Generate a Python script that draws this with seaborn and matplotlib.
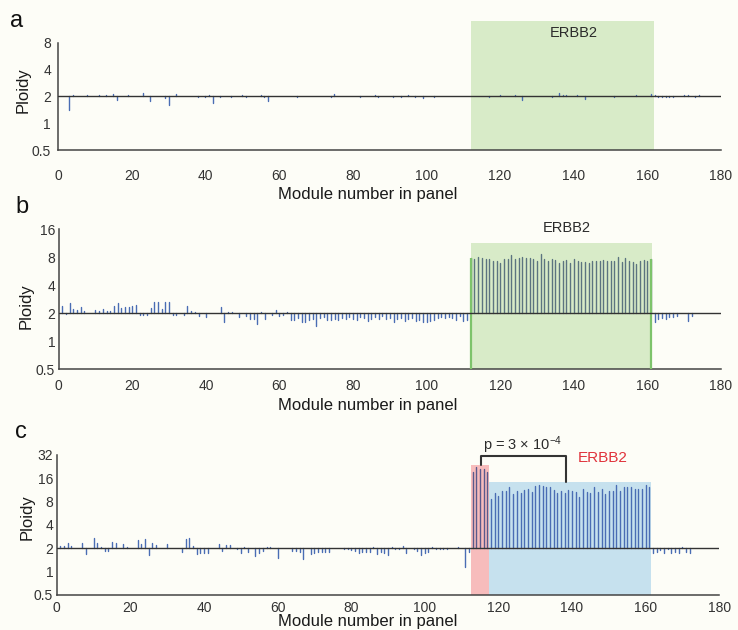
import numpy as np
import pandas as pd
import matplotlib
matplotlib.use("Agg")
import matplotlib.pyplot as plt
import seaborn as sns
from matplotlib.patches import Rectangle
from matplotlib.ticker import FixedLocator, NullLocator

sns.set_theme(style="white")
plt.rcParams["font.family"] = ["Liberation Sans", "DejaVu Sans"]
plt.rcParams["mathtext.fontset"] = "custom"
plt.rcParams["mathtext.rm"] = "Liberation Sans"
plt.rcParams["mathtext.it"] = "Liberation Sans:italic"
plt.rcParams["mathtext.bf"] = "Liberation Sans:bold"

# ---------------- data ----------------
ploidy_a = [
    2.02, 2.00, 1.42, 2.06, 2.01, 2.00, 2.04, 2.05, 2.03, 2.04,
    2.05, 2.04, 2.05, 2.03, 2.15, 1.84, 2.01, 2.02, 2.07, 2.02,
    2.03, 2.01, 2.20, 2.02, 1.80, 2.00, 2.01, 2.02, 1.92, 1.60,
    2.02, 2.12, 2.01, 2.00, 2.01, 2.00, 2.01, 1.96, 2.00, 1.95,
    2.06, 1.70, 2.02, 1.96, 2.02, 2.03, 1.97, 2.02, 2.04, 2.07,
    1.96, 2.04, 2.02, 2.01, 2.07, 1.96, 1.78, 2.03, 2.00, 2.00,
    2.00, 2.00, 2.00, 2.00, 1.97, 2.00, 2.00, 2.01, 2.00, 2.00,
    2.00, 2.02, 2.01, 1.96, 2.12, 2.03, 2.00, 2.00, 2.04, 2.01,
    2.00, 1.95, 2.01, 2.00, 2.00, 2.05, 1.96, 2.01, 2.00, 2.03,
    1.95, 2.04, 1.96, 2.02, 2.05, 2.02, 1.95, 2.02, 1.94, 2.02,
    2.00, 1.95, 2.01, 2.04, 2.00, 2.04, 2.00, 2.00, 2.03, 2.00,
    2.00, 2.00, 2.00, 2.00, 2.00, 2.00, 1.96, 2.00, 2.00, 2.06,
    2.01, 2.00, 2.00, 2.09, 2.04, 1.82, 2.00, 2.03, 2.00, 2.02,
    2.00, 2.03, 2.00, 1.98, 2.00, 2.18, 2.10, 2.08, 2.00, 2.00,
    2.10, 2.00, 1.85, 2.00, 2.02, 2.00, 2.00, 2.02, 2.00, 2.00,
    1.96, 2.00, 2.00, 2.00, 2.00, 2.02, 2.06, 2.02, 2.03, 2.00,
    2.12, 2.05, 1.97, 1.96, 1.95, 1.97, 1.96, 2.00, 2.00, 2.07,
    2.10, 2.00, 1.97, 2.06, 2.03, 2.00, 2.02,
]

ploidy_b = [
    2.40, 1.96, 2.60, 2.22, 2.17, 2.32, 2.12, 2.00, 2.00, 2.17,
    2.14, 2.24, 2.10, 2.14, 2.42, 2.60, 2.26, 2.36, 2.32, 2.40,
    2.44, 1.93, 1.93, 1.93, 2.26, 2.63, 2.63, 2.20, 2.65, 2.63,
    1.93, 1.93, 2.00, 1.93, 2.40, 2.12, 2.07, 1.87, 2.00, 1.84,
    2.00, 2.00, 2.00, 2.32, 1.63, 2.07, 2.05, 2.03, 1.81, 2.00,
    1.87, 1.72, 1.72, 1.54, 2.07, 1.72, 2.00, 1.92, 2.17, 1.87,
    1.92, 2.07, 1.69, 1.69, 1.77, 1.63, 1.60, 1.69, 1.72, 1.47,
    1.77, 1.84, 1.69, 1.69, 1.72, 1.69, 1.77, 1.72, 1.81, 1.72,
    1.69, 1.84, 1.77, 1.66, 1.72, 1.81, 1.72, 1.87, 1.72, 1.77,
    1.63, 1.72, 1.77, 1.67, 1.72, 1.77, 1.67, 1.69, 1.63, 1.63,
    1.67, 1.69, 1.77, 1.81, 1.77, 1.81, 1.77, 1.69, 1.87, 1.67,
    1.69,
    # ERBB2 block (modules 112-161)
    7.80, 7.67, 8.13, 7.80, 7.61, 7.61, 7.35, 7.35, 7.03, 7.61,
    7.61, 8.48, 7.61, 7.80, 8.00, 7.93, 7.80, 7.61, 7.35, 8.61,
    7.61, 7.35, 7.67, 7.48, 6.97, 7.35, 7.48, 6.97, 7.61, 7.35,
    7.20, 7.14, 7.03, 7.35, 7.35, 7.35, 7.55, 7.35, 7.35, 7.35,
    8.00, 7.20, 7.80, 7.35, 7.14, 6.76, 7.35, 7.48, 7.35, 7.61,
    # after block
    1.63, 1.72, 1.77, 1.72, 1.81, 1.81, 1.87, 2.00, 2.00, 1.67, 1.87,
]

ploidy_c = [
    2.16, 2.16, 2.32, 2.14, 2.00, 2.00, 2.32, 1.67, 2.00, 2.69,
    2.32, 2.06, 1.87, 1.87, 2.39, 2.37, 2.02, 2.25, 2.10, 2.02,
    2.00, 2.56, 2.27, 2.61, 1.64, 2.32, 2.19, 2.02, 2.00, 2.30,
    2.00, 2.00, 2.00, 1.78, 2.61, 2.69, 2.14, 1.67, 1.72, 1.72,
    1.72, 2.00, 2.00, 2.25, 1.87, 2.21, 2.21, 2.00, 1.94, 1.72,
    2.06, 1.78, 2.00, 1.61, 1.76, 1.87, 2.10, 2.10, 2.00, 1.49,
    2.00, 2.03, 2.00, 1.87, 1.87, 1.81, 1.44, 2.00, 1.69, 1.72,
    1.81, 1.81, 1.81, 1.81, 2.00, 2.00, 2.00, 1.97, 1.97, 1.91,
    1.87, 1.72, 1.78, 1.81, 1.81, 2.06, 1.69, 1.81, 1.72, 1.64,
    2.10, 1.94, 1.97, 2.14, 1.72, 2.00, 1.94, 1.87, 1.64, 1.72,
    1.81, 2.10, 1.97, 1.97, 1.97, 1.97, 2.00, 2.00, 2.10, 2.00,
    1.16, 1.81,
    # high-amplitude block (modules 113-117)
    19.5, 22.3, 21.3, 20.9, 19.3,
    # ERBB2 block (modules 118-161)
    8.57, 10.42, 9.38, 11.03, 11.03, 12.5, 10.0, 11.03, 10.25, 11.31,
    11.54, 10.74, 12.75, 13.0, 12.9, 12.27, 12.5, 11.31, 10.42, 11.03,
    10.42, 11.31, 11.03, 10.74, 9.06, 11.7, 10.74, 10.25, 12.5, 10.74,
    11.7, 9.9, 11.03, 11.03, 13.0, 11.03, 12.5, 12.5, 12.27, 11.54,
    11.7, 11.7, 13.2, 12.5,
    # after block
    1.72, 1.81, 1.91, 1.72, 1.97, 1.72, 1.81, 1.72, 2.10, 1.81, 1.72,
]

baseline_ploidy = 2.0
x_ticks = [0, 20, 40, 60, 80, 100, 120, 140, 160, 180]
y_ticks_a = [0.5, 1, 2, 4, 8]
y_ticks_b = [0.5, 1, 2, 4, 8, 16]
y_ticks_c = [0.5, 1, 2, 4, 8, 16, 32]
y_ticklabels_a = ["0.5", "1", "2", "4", "8"]
y_ticklabels_b = ["0.5", "1", "2", "4", "8", "16"]
y_ticklabels_c = ["0.5", "1", "2", "4", "8", "16", "32"]
erbb2_modules_b = (112, 161)
high_modules_c = (113, 117)
erbb2_modules_c = (118, 161)
p_text = r"p = 3 × 10$^{-4}$"

# ---------------- style ----------------
BG = "#fdfdf7"
BLUE = "#4a6db4"
BOX_BAR = "#5c7480"
RED_BAR = "#5a5a8c"
GREEN_BOX = "#d8ebc8"
GREEN_EDGE = "#7dc36b"
RED_BOX = "#f7bcbc"
BLUE_BOX = "#c6e1ee"
AXC = "#444444"
TXT = "#2b2b2b"

W, H = 738, 630
fig = plt.figure(figsize=(W / 100, H / 100), dpi=100, facecolor=BG)


def px_rect(left, bottom_from_top, width, height):
    return [left / W, 1 - bottom_from_top / H, width / W, height / H]


def stem_frame(values, regions):
    m = np.arange(1, len(values) + 1)
    base = np.full(len(values), baseline_ploidy)
    return pd.DataFrame({
        "module": np.repeat(m, 2),
        "ploidy": np.column_stack([base, np.asarray(values, float)]).ravel(),
        "region": np.repeat(regions, 2),
    })


def region_labels(n, spans):
    labs = []
    for m in range(1, n + 1):
        lab = "other"
        for name, (lo, hi) in spans.items():
            if lo <= m <= hi:
                lab = name
        labs.append(lab)
    return labs


def style_axes(ax, ylim, spine_top, yticks, ylabels, xpad, ypad):
    ax.set_facecolor(BG)
    ax.set_yscale("log", base=2)
    ax.set_ylim(*ylim)
    ax.set_xlim(0, 180)
    ax.yaxis.set_major_locator(FixedLocator(yticks))
    ax.set_yticklabels(ylabels)
    ax.yaxis.set_minor_locator(NullLocator())
    ax.set_xticks(x_ticks)
    ax.set_xticklabels([str(t) for t in x_ticks])
    for s in ["top", "right"]:
        ax.spines[s].set_visible(False)
    for s in ["left", "bottom"]:
        ax.spines[s].set_color(AXC)
        ax.spines[s].set_linewidth(1.1)
    ax.spines["left"].set_bounds(0.5, spine_top)
    ax.tick_params(direction="in", length=4.5, width=1.1, color=AXC,
                   labelsize=10, labelcolor="#333333")
    ax.tick_params(axis="x", pad=xpad)
    ax.tick_params(axis="y", pad=ypad)
    ax.set_xlabel("")
    ax.set_ylabel("")
    ax.axhline(baseline_ploidy, color="#333333", lw=1.0, zorder=4)


def draw_stems(ax, values, regions, palette):
    df = stem_frame(values, regions)
    sns.lineplot(data=df, x="module", y="ploidy", units="module", estimator=None,
                 hue="region", palette=palette, lw=1.0, legend=False, sort=False,
                 ax=ax, zorder=3)


# ---------------- panel a ----------------
ax_a = fig.add_axes(px_rect(58, 150, 663, 129))
ax_a.add_patch(Rectangle((112.2, 0.5), 161.8 - 112.2, 14.1 - 0.5,
                         facecolor=GREEN_BOX, edgecolor="none", zorder=1))
draw_stems(ax_a, ploidy_a, ["other"] * len(ploidy_a), {"other": BLUE})
style_axes(ax_a, (0.5, 14.1), 8, y_ticks_a, y_ticklabels_a, 14, 5)
ax_a.text(140, 10.4, "ERBB2", ha="center", va="center", fontsize=10.5, color=TXT)

# ---------------- panel b ----------------
ax_b = fig.add_axes(px_rect(58.7, 369.3, 662.3, 140))
lo_b, hi_b = erbb2_modules_b
ax_b.add_patch(Rectangle((lo_b, 0.5), hi_b + 0.3 - lo_b, 11.3 - 0.5,
                         facecolor=GREEN_BOX, edgecolor="none", zorder=1))
reg_b = region_labels(len(ploidy_b), {"erbb2": erbb2_modules_b})
draw_stems(ax_b, ploidy_b, reg_b, {"other": BLUE, "erbb2": BOX_BAR})
ax_b.vlines([lo_b, hi_b], 0.5, [ploidy_b[lo_b - 1], ploidy_b[hi_b - 1]],
            color=GREEN_EDGE, lw=1.6, zorder=3.5)
style_axes(ax_b, (0.5, 16), 16, y_ticks_b, y_ticklabels_b, 7, 2.5)
ax_b.text(138, 16.6, "ERBB2", ha="center", va="center", fontsize=10.5,
          color=TXT, clip_on=False)

# ---------------- panel c ----------------
ax_c = fig.add_axes(px_rect(56.7, 595, 662.6, 140))
lo_h, hi_h = high_modules_c
lo_e, hi_e = erbb2_modules_c
ax_c.add_patch(Rectangle((lo_h - 0.5, 0.5), hi_h - lo_h + 0.9, 23.8 - 0.5,
                         facecolor=RED_BOX, edgecolor="none", zorder=1))
ax_c.add_patch(Rectangle((lo_e - 0.6, 0.5), hi_e - lo_e + 1.0, 14.5 - 0.5,
                         facecolor=BLUE_BOX, edgecolor="none", zorder=1))
reg_c = region_labels(len(ploidy_c), {"high": high_modules_c, "erbb2": erbb2_modules_c})
draw_stems(ax_c, ploidy_c, reg_c, {"other": BLUE, "high": RED_BAR, "erbb2": BLUE})
style_axes(ax_c, (0.5, 32), 32, y_ticks_c, y_ticklabels_c, 4, 2.5)
# significance bracket
ax_c.plot([115.2, 115.2, 138.4, 138.4], [23.8, 31.4, 31.4, 14.5],
          color="#333333", lw=1.5, clip_on=False, zorder=5)
ax_c.text(126.7, 43, p_text, ha="center", va="center", fontsize=10.5,
          color=TXT, clip_on=False)
ax_c.text(148.3, 29.3, "ERBB2", ha="center", va="center", fontsize=11,
          color="#e0333c", clip_on=False)

# ---------------- figure-level labels ----------------
for yb in (199, 410, 626):
    fig.text(368 / W, 1 - yb / H, "Module number in panel", ha="center",
             va="baseline", fontsize=12, color="#1a1a1a")
for (xc, yc) in ((23.5, 90), (26, 306), (27, 517)):
    fig.text(xc / W, 1 - yc / H, "Ploidy", rotation=90, ha="center",
             va="center", fontsize=12, color="#1a1a1a")
for (xl, yb, lab) in ((10, 27, "a"), (15, 213, "b"), (15, 438, "c")):
    fig.text(xl / W, 1 - yb / H, lab, ha="left", va="baseline", fontsize=17,
             color="#111111")

fig.savefig("out.png", dpi=100, facecolor=BG)
